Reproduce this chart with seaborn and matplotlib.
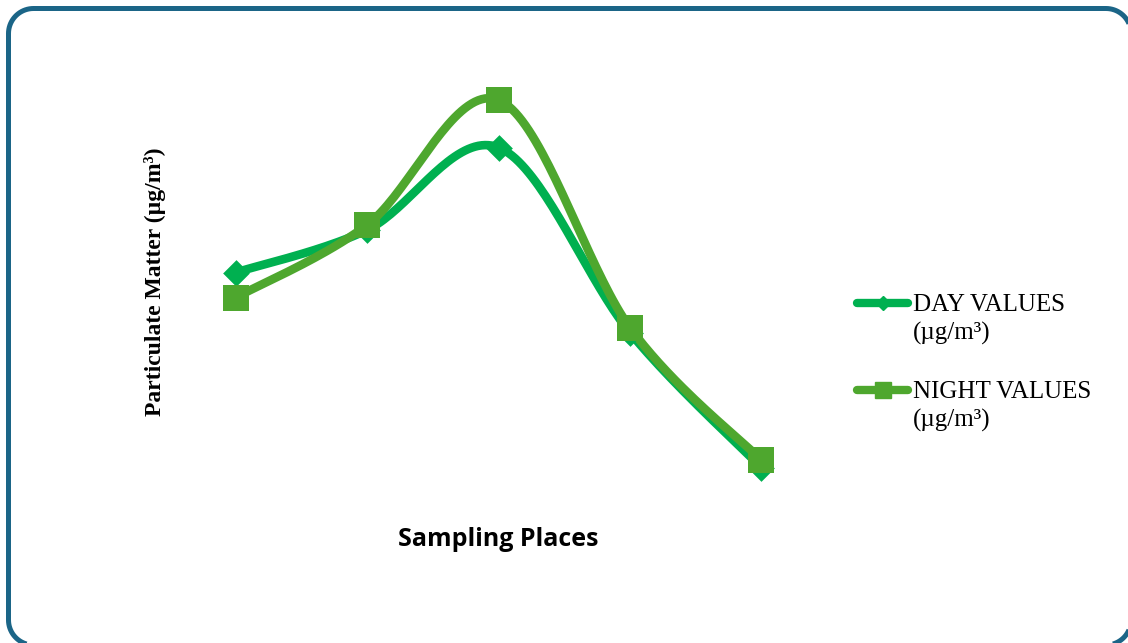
import numpy as np
import pandas as pd
import matplotlib
matplotlib.use("Agg")
import matplotlib.pyplot as plt
from matplotlib.lines import Line2D
from matplotlib.legend_handler import HandlerLine2D
from matplotlib.patches import Polygon
import seaborn as sns

sns.set_style("white")

places = ["Place 1", "Place 2", "Place 3", "Place 4", "Place 5"]
day_values = [107, 124, 157, 83, 29]
night_values = [97, 126, 176, 85, 32]
series_names = ["DAY VALUES\n(\u00b5g/m\u00b3)", "NIGHT VALUES\n(\u00b5g/m\u00b3)"]

day_color = "#00b050"
night_color = "#4ea72e"
border_color = "#1b6587"
serif = ["Liberation Serif", "DejaVu Serif"]

W, H = 1128, 643


def smooth(vals, n=40):
    # excel style smoothed line (catmull-rom bezier)
    p = np.column_stack([np.arange(len(vals)), vals]).astype(float)
    out = []
    t = np.linspace(0, 1, n)[:, None]
    for i in range(len(p) - 1):
        p0 = p[i - 1] if i > 0 else p[i]
        p3 = p[i + 2] if i + 2 < len(p) else p[i + 1]
        c1 = p[i] + (p[i + 1] - p0) / 6
        c2 = p[i + 1] - (p3 - p[i]) / 6
        seg = (1 - t)**3 * p[i] + 3 * (1 - t)**2 * t * c1 + 3 * (1 - t) * t**2 * c2 + t**3 * p[i + 1]
        out.append(seg if i == 0 else seg[1:])
    out = np.vstack(out)
    return pd.DataFrame({"x": out[:, 0], "y": out[:, 1]})


def rounded_rect(x0, y0, x1, y1, r, n=20):
    # rounded rectangle outline in pixels, as plain line segments
    pts = []
    for cx, cy, a0 in [(x1 - r, y1 - r, 0), (x0 + r, y1 - r, 90),
                       (x0 + r, y0 + r, 180), (x1 - r, y0 + r, 270)]:
        a = np.radians(np.linspace(a0, a0 + 90, n))
        pts.append(np.column_stack([cx + r * np.cos(a), cy + r * np.sin(a)]))
    pts = np.vstack(pts)
    return pts / [W, H]


class FirstLineHandler(HandlerLine2D):
    # put the legend line next to the first text line
    def create_artists(self, legend, orig_handle, xdescent, ydescent, width, height, fontsize, trans):
        arts = super().create_artists(legend, orig_handle, xdescent, ydescent, width, height, fontsize, trans)
        for a in arts:
            a.set_ydata(np.asarray(a.get_ydata()) + 0.65 * fontsize)
        return arts


fig = plt.figure(figsize=(W / 100, H / 100), dpi=100)
ax = fig.add_axes([170 / W, 143 / H, 657 / W, 440 / H])

pts = pd.DataFrame({"x": np.arange(len(places)), "day": day_values, "night": night_values})

sns.lineplot(data=smooth(day_values), x="x", y="y", sort=False, estimator=None,
             color=day_color, linewidth=6.2, ax=ax, solid_capstyle="round")
sns.scatterplot(data=pts, x="x", y="day", marker="D", s=185, color=day_color,
                linewidth=0, ax=ax, zorder=3)
sns.lineplot(data=smooth(night_values), x="x", y="y", sort=False, estimator=None,
             color=night_color, linewidth=6.2, ax=ax, solid_capstyle="round")
sns.scatterplot(data=pts, x="x", y="night", marker="s", s=370, color=night_color,
                linewidth=0, ax=ax, zorder=4)

ax.set_xlim(-0.5, len(places) - 0.5)
ax.set_ylim(16, 192)
ax.set_xticks(range(len(places)))
ax.set_xticklabels([])
ax.set_yticks([])
ax.tick_params(length=0)
ax.set_xlabel("")
ax.set_ylabel("")
sns.despine(ax=ax, left=True, bottom=True)

fig.text(155 / W, 1 - 282 / H, "Particulate Matter (\u00b5g/m\u00b3)", rotation=90,
         ha="center", va="center", fontsize=17, fontweight="bold", family=serif, color="black")
fig.text(498 / W, 1 - 539 / H, "Sampling Places", ha="center", va="center",
         fontsize=18, fontweight="bold", family=["Open Sans", "DejaVu Sans"], color="black")

handles = [Line2D([], [], color=day_color, lw=6, marker="D", ms=7.5, solid_capstyle="round"),
           Line2D([], [], color=night_color, lw=6, marker="s", ms=11.5, solid_capstyle="round")]
leg = fig.legend(handles, series_names, loc="upper left",
                 bbox_to_anchor=(857 / W, 1 - 294 / H),
                 frameon=False, borderpad=0, borderaxespad=0, handlelength=2.05,
                 handletextpad=0.2, labelspacing=1.42, prop={"family": serif, "size": 18},
                 handler_map={Line2D: FirstLineHandler()})
for t in leg.get_texts():
    t.set_linespacing(1.35)
    t.set_color("black")

border = Polygon(rounded_rect(8.5, -2, 1131, 634.5, 25), closed=True, fill=False,
                 edgecolor=border_color, linewidth=3.6, transform=fig.transFigure)
fig.patches.append(border)

fig.savefig("out.png", dpi=100)
